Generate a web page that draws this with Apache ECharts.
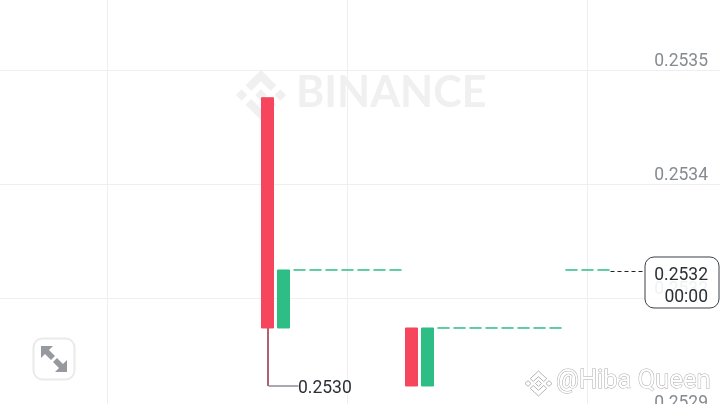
<!DOCTYPE html>
<html><head><meta charset="utf-8">
<style>html,body{margin:0;padding:0;background:#fff}#c{width:720px;height:404px}</style>
<script src="https://cdn.jsdelivr.net/npm/echarts@6/dist/echarts.min.js"></script>
</head><body><div id="c"></div>
<script>
var slotCount = 47;
var candleSlots = [17,18,19,20,21,22,23,24,25,26,27,28,29,30,31,32,33,34,35,36,37,38];
var opens  = [0.253497,0.2531,0.2532,0.2532,0.2532,0.2532,0.2532,0.2532,0.2532,0.2531,0.2530,0.2531,0.2531,0.2531,0.2531,0.2531,0.2531,0.2531,0.2531,0.2532,0.2532,0.2532];
var closes = [0.2531,0.2532,0.2532,0.2532,0.2532,0.2532,0.2532,0.2532,0.2532,0.2530,0.2531,0.2531,0.2531,0.2531,0.2531,0.2531,0.2531,0.2531,0.2531,0.2532,0.2532,0.2532];
var lows   = [0.2530,0.2531,0.2532,0.2532,0.2532,0.2532,0.2532,0.2532,0.2532,0.2530,0.2530,0.2531,0.2531,0.2531,0.2531,0.2531,0.2531,0.2531,0.2531,0.2532,0.2532,0.2532];
var highs  = [0.253497,0.2532,0.2532,0.2532,0.2532,0.2532,0.2532,0.2532,0.2532,0.2531,0.2531,0.2531,0.2531,0.2531,0.2531,0.2531,0.2531,0.2531,0.2531,0.2532,0.2532,0.2532];
var tickValues = [0.25354483,0.25334828,0.25315172,0.25295517];
var tickLabels = ['0.2535','0.2534','0.2532','0.2529'];
var lowMark = {slot:17, price:0.2530, body:0.2531, label:'0.2530'};
var lastMark = {slot:38, price:0.2532, label:'0.2532', timer:'00:00'};
var gridSlots = [7,22,37];

var cats=[], rows=[];
for (var i=0;i<slotCount;i++){cats.push(String(i));rows.push('-');}
candleSlots.forEach(function(s,i){rows[s]=[opens[i],closes[i],lows[i],highs[i]];});

var RED='#F6465D', GREEN='#2EBD85', INK='#2B2F36';
var logo='M38.73 53.2l24.59-24.58 24.6 24.6 14.3-14.31L63.32 0 24.43 38.9z M0 63.31l14.3-14.31 14.31 14.31-14.31 14.3z M38.73 73.41l24.59 24.59 24.6-24.6 14.31 14.29-38.9 38.91-38.91-38.88z M98.28 63.31l14.31-14.31 14.3 14.3-14.3 14.32z M77.83 63.3L63.32 48.78 52.59 59.51l-1.24 1.23-2.54 2.54 14.51 14.5 14.51-14.47z';

var chart=echarts.init(document.getElementById('c'),null,{renderer:'canvas'});
chart.setOption({
  animation:false,
  backgroundColor:'#fff',
  grid:{left:-4.5,right:-11.5,top:0,bottom:-10,outerBoundsMode:'none',containLabel:false},
  xAxis:{type:'category',data:cats,boundaryGap:false,
    axisLine:{show:false},axisTick:{show:false},axisLabel:{show:false},
    splitLine:{show:true,lineStyle:{color:'#EFEFEF',width:1},interval:function(i){return gridSlots.indexOf(i)>=0;}}},
  yAxis:{type:'value',position:'right',min:0.25295172,max:0.25366552,scale:true,
    axisLine:{show:false},
    axisTick:{show:false,customValues:tickValues},
    splitLine:{show:true,lineStyle:{color:'#EFEFEF',width:1}},
    axisLabel:{inside:true,margin:23.5,customValues:tickValues,color:'#858B91',fontFamily:'Roboto',fontSize:17.5,verticalAlign:'bottom',lineHeight:17,
      formatter:function(v){var b=0,d=9;tickValues.forEach(function(t,i){if(Math.abs(t-v)<d){d=Math.abs(t-v);b=i;}});return tickLabels[b];}}},
  graphic:[
    {type:'text',z:1,x:296,y:72,style:{text:'BINANCE',fill:'#F0F0F0',font:'bold 43px Lato'}},
    {type:'rect',z:50,shape:{x:33.5,y:338.5,width:41,height:41,r:9},style:{fill:'#fff',stroke:'#EAEAEA',lineWidth:2}},
    {type:'polygon',z:51,shape:{points:[[41,346],[53,346],[49,350],[55,356],[51,360],[45,354],[41,358]]},style:{fill:'#96999E'}},
    {type:'polygon',z:51,shape:{points:[[67,372],[55,372],[59,368],[53,362],[57,358],[63,364],[67,360]]},style:{fill:'#96999E'}},
    {type:'text',z:60,x:556,y:369,style:{text:'@Hiba Queen',fill:'#FFFFFF',stroke:'#ABABAB',lineWidth:1,font:'25.5px Roboto'}}
  ],
  series:[
    {type:'custom',coordinateSystem:'none',z:1,silent:true,data:[[0]],
      renderItem:function(){return {type:'group',children:[
        {type:'path',shape:{pathData:logo,layout:'cover',x:236,y:70,width:50,height:50},style:{fill:'#F0F0F0'}},
        {type:'path',z2:100,shape:{pathData:logo,layout:'cover',x:525,y:371,width:27,height:25},style:{fill:'none',stroke:'#B5B5B5',lineWidth:1}}
      ]};}},
    {type:'candlestick',data:rows,barWidth:13.4,z:3,clip:false,
      itemStyle:{color:GREEN,color0:RED,borderColor:GREEN,borderColor0:RED,borderColorDoji:GREEN,borderWidth:1}},
    {type:'custom',z:6,data:[[lowMark.slot,lowMark.price,lowMark.body]],
      renderItem:function(p,api){var c=api.coord([api.value(0),api.value(1)]);var t=api.coord([api.value(0),api.value(2)]);
        return {type:'group',children:[
          {type:'line',shape:{x1:c[0]+0.5,y1:t[1],x2:c[0]+0.5,y2:c[1]},style:{stroke:'#B5606F',lineWidth:2}},
          {type:'line',shape:{x1:c[0]+1,y1:c[1],x2:c[0]+31,y2:c[1]},style:{stroke:'#8C8C94',lineWidth:1.5}},
          {type:'text',x:c[0]+30.5,y:c[1]+2.5,style:{text:lowMark.label,fill:INK,font:'17.5px Roboto',verticalAlign:'middle',align:'left'}}
        ]};},
      encode:{x:0,y:1}},
    {type:'custom',z:20,clip:false,data:[[lastMark.slot,lastMark.price]],
      renderItem:function(p,api){var c=api.coord([api.value(0),api.value(1)]);
        return {type:'group',children:[
          {type:'line',shape:{x1:c[0]+7,y1:c[1]+1.5,x2:645,y2:c[1]+1.5},style:{stroke:'#222',lineWidth:1,lineDash:[4,3]}},
          {type:'rect',shape:{x:645,y:c[1]-13,width:74,height:51,r:9},style:{fill:'rgba(255,255,255,0.88)',stroke:'#3A3F46',lineWidth:1}},
          {type:'text',x:708,y:c[1]+5.5,style:{text:lastMark.label,fill:INK,font:'17.5px Roboto',align:'right',verticalAlign:'middle'}},
          {type:'text',x:708,y:c[1]+27.5,style:{text:lastMark.timer,fill:INK,font:'17.5px Roboto',align:'right',verticalAlign:'middle'}}
        ]};},
      encode:{x:0,y:1}}
  ]
});
</script></body></html>
